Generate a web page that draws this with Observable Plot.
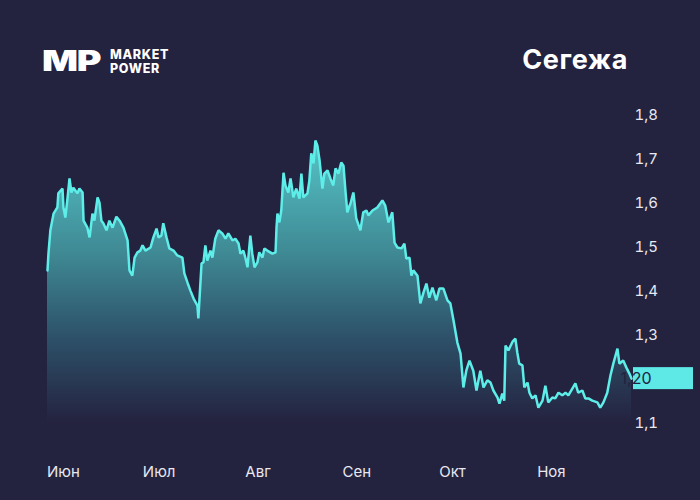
<!DOCTYPE html>
<html><head><meta charset="utf-8">
<script src="https://cdn.jsdelivr.net/npm/d3@7"></script>
<script src="https://cdn.jsdelivr.net/npm/@observablehq/plot@0.6"></script>
<style>
html,body{margin:0;padding:0;background:#23223f;}
#wrap{position:relative;width:700px;height:500px;overflow:hidden;font-family:Inter,"Open Sans",sans-serif;}
#header{position:absolute;left:0;top:0;width:700px;height:100px;}
#chart{position:absolute;left:0;top:100px;}
.logo-mp{position:absolute;left:42px;top:46px;font-size:29px;font-weight:900;color:#fff;letter-spacing:-1px;line-height:30px;transform:scaleX(1.3);transform-origin:left center;}
.logo-txt{position:absolute;left:110px;top:48px;font-size:12.5px;font-weight:800;color:#fff;line-height:13.5px;letter-spacing:0.7px;}
.title{position:absolute;right:72px;top:43px;font-size:27px;font-weight:700;color:#fff;letter-spacing:0.6px;}
</style></head>
<body>
<div id="wrap">
  <div id="header">
    <div class="logo-mp">MP</div>
    <div class="logo-txt">MARKET<br>POWER</div>
    <div class="title">Сегежа</div>
  </div>
  <div id="chart"></div>
</div>
<script>
// days counted from 1 June 2024
const dayFromJune1 = [
-5.0,-4.7,-4.1,-3.1,-1.9,-1.6,-0.3,0.0,0.6,1.3,
1.9,2.5,3.1,4.4,5.0,6.0,6.3,7.5,8.2,9.1,
9.7,10.7,11.3,11.9,12.5,13.5,14.4,15.4,16.6,17.6,
18.8,20.1,20.7,21.6,22.3,23.2,24.1,24.8,25.7,27.3,
28.2,29.2,29.8,30.7,31.3,32.3,33.2,34.5,35.7,37.3,
37.9,38.9,39.8,40.8,42.0,42.3,43.3,43.9,44.5,45.1,
46.1,46.7,47.6,48.6,49.8,50.8,51.7,53.0,53.9,54.9,
55.5,56.4,57.1,57.7,58.6,59.2,59.9,60.8,61.4,62.4,
63.0,63.9,65.5,66.5,66.8,67.1,67.7,68.3,69.0,69.6,
70.5,71.2,72.1,73.0,74.0,74.6,75.2,76.5,77.1,77.7,
78.4,79.0,79.6,80.3,81.2,81.8,82.8,83.7,84.6,85.3,
86.2,87.1,87.8,88.4,89.0,89.7,90.0,90.9,91.8,93.1,
94.0,95.0,95.6,96.9,98.4,100.0,100.9,101.9,103.1,103.8,
104.7,106.0,106.9,107.5,108.5,109.1,109.7,111.0,111.9,112.9,
113.8,114.7,115.7,116.9,117.9,119.1,120.4,121.3,122.3,123.5,
124.5,125.4,126.3,127.3,128.5,129.5,130.7,131.7,132.9,133.9,
134.8,136.1,136.7,137.6,138.2,138.6,139.5,140.8,141.7,142.3,
142.9,143.9,144.5,145.5,146.1,147.0,148.0,148.9,150.2,151.1,
152.0,153.3,154.2,155.2,156.4,157.4,158.3,159.6,160.5,161.4,
162.7,163.6,164.6,165.8,167.4,168.3,169.3,170.5,171.5,172.4,
173.7,174.3,175.5,176.5,177.4,178.1
];
const price = [
1.448,1.486,1.539,1.577,1.591,1.623,1.634,1.591,1.568,1.614,
1.657,1.625,1.636,1.623,1.634,1.625,1.561,1.545,1.523,1.577,
1.561,1.614,1.602,1.561,1.555,1.539,1.561,1.545,1.570,1.561,
1.545,1.516,1.448,1.436,1.477,1.489,1.493,1.505,1.493,1.500,
1.523,1.543,1.523,1.527,1.555,1.523,1.498,1.493,1.482,1.477,
1.441,1.420,1.402,1.384,1.368,1.339,1.464,1.466,1.505,1.470,
1.493,1.477,1.520,1.539,1.532,1.520,1.532,1.516,1.520,1.509,
1.486,1.493,1.475,1.455,1.527,1.486,1.455,1.466,1.489,1.477,
1.498,1.493,1.486,1.489,1.545,1.577,1.557,1.584,1.670,1.641,
1.625,1.657,1.614,1.634,1.611,1.668,1.614,1.623,1.652,1.714,
1.691,1.743,1.732,1.698,1.634,1.668,1.675,1.657,1.641,1.680,
1.668,1.693,1.686,1.630,1.580,1.595,1.600,1.625,1.566,1.539,
1.580,1.584,1.573,1.584,1.591,1.607,1.595,1.557,1.580,1.511,
1.500,1.498,1.509,1.475,1.477,1.436,1.448,1.436,1.373,1.398,
1.418,1.386,1.409,1.380,1.407,1.407,1.380,1.373,1.334,1.284,
1.259,1.182,1.220,1.243,1.220,1.175,1.220,1.182,1.198,1.193,
1.175,1.159,1.145,1.168,1.152,1.277,1.266,1.286,1.293,1.261,
1.236,1.232,1.182,1.193,1.170,1.157,1.164,1.136,1.152,1.186,
1.148,1.159,1.157,1.170,1.164,1.170,1.164,1.180,1.191,1.170,
1.175,1.157,1.157,1.152,1.148,1.136,1.148,1.170,1.209,1.236,
1.270,1.236,1.243,1.227,1.214,1.202
];
const monthTicks = ["2024-06-01","2024-07-01","2024-08-01","2024-09-01","2024-10-01","2024-11-01"];
const monthLabels = ["Июн","Июл","Авг","Сен","Окт","Ноя"];
const yTicks = [1.1,1.2,1.3,1.4,1.5,1.6,1.7,1.8];
const baseline = 1.1;

const start = Date.UTC(2024,5,1);
const data = price.map((p,i)=>({date:new Date(start + dayFromJune1[i]*864e5), price:p}));
const tickDates = monthTicks.map(s=>new Date(s+"T00:00:00Z"));
const fmtComma = (v, n) => v.toFixed(n).replace(".", ",");
const last = data[data.length-1];
// the last-value badge replaces the tick it sits on
const shownTicks = yTicks.filter(t => Math.abs(t - last.price) > 0.03);

const chart = Plot.plot({
  width: 700, height: 400,
  marginLeft: 47, marginRight: 69, marginTop: 15, marginBottom: 77,
  style: {background: "transparent", color: "#e8e8f0", fontFamily: "Inter, 'Open Sans', sans-serif", fontSize: "15px"},
  x: {type: "utc", domain: d3.extent(data, d=>d.date), ticks: tickDates,
      tickFormat: d => monthLabels[tickDates.findIndex(t=>+t===+d)], tickSize: 0, tickPadding: 43, label: null},
  y: {domain: [yTicks[0], yTicks[yTicks.length-1]], ticks: shownTicks, tickFormat: d => fmtComma(d,1),
      axis: "right", tickSize: 0, tickPadding: 3, label: null},
  marks: [
    Plot.areaY(data, {x: "date", y1: () => baseline, y2: "price", fill: "url(#areaGrad)"}),
    Plot.lineY(data, {x: "date", y: "price", stroke: "#5eeeea", strokeWidth: 2.5, strokeLinejoin: "miter"})
  ]
});

const ys = chart.scale("y"), xs = chart.scale("x");
const svg = d3.select(chart);
const gTop = ys.apply(1.75), gBot = ys.apply(baseline);
const defs = svg.insert("defs", ":first-child");
const grad = defs.append("linearGradient").attr("id","areaGrad")
  .attr("gradientUnits","userSpaceOnUse").attr("x1",0).attr("x2",0).attr("y1",gTop).attr("y2",gBot);
grad.append("stop").attr("offset","0%").attr("stop-color","#56c6c8");
grad.append("stop").attr("offset","40%").attr("stop-color","#3f8a95");
grad.append("stop").attr("offset","70%").attr("stop-color","#2d5169");
grad.append("stop").attr("offset","100%").attr("stop-color","#24223f");

const ly = ys.apply(last.price), lx = xs.apply(last.date) + 2;
svg.append("rect").attr("x", lx).attr("y", ly-11).attr("width", 60).attr("height", 22).attr("fill", "#5ee8e6");
svg.append("text").attr("x", lx+3).attr("y", ly).attr("dy","0.36em")
  .attr("fill","#23223f").attr("font-size","16px").attr("font-family","Inter, sans-serif")
  .text(fmtComma(last.price,2));

document.getElementById("chart").appendChild(chart);
</script>
</body></html>
